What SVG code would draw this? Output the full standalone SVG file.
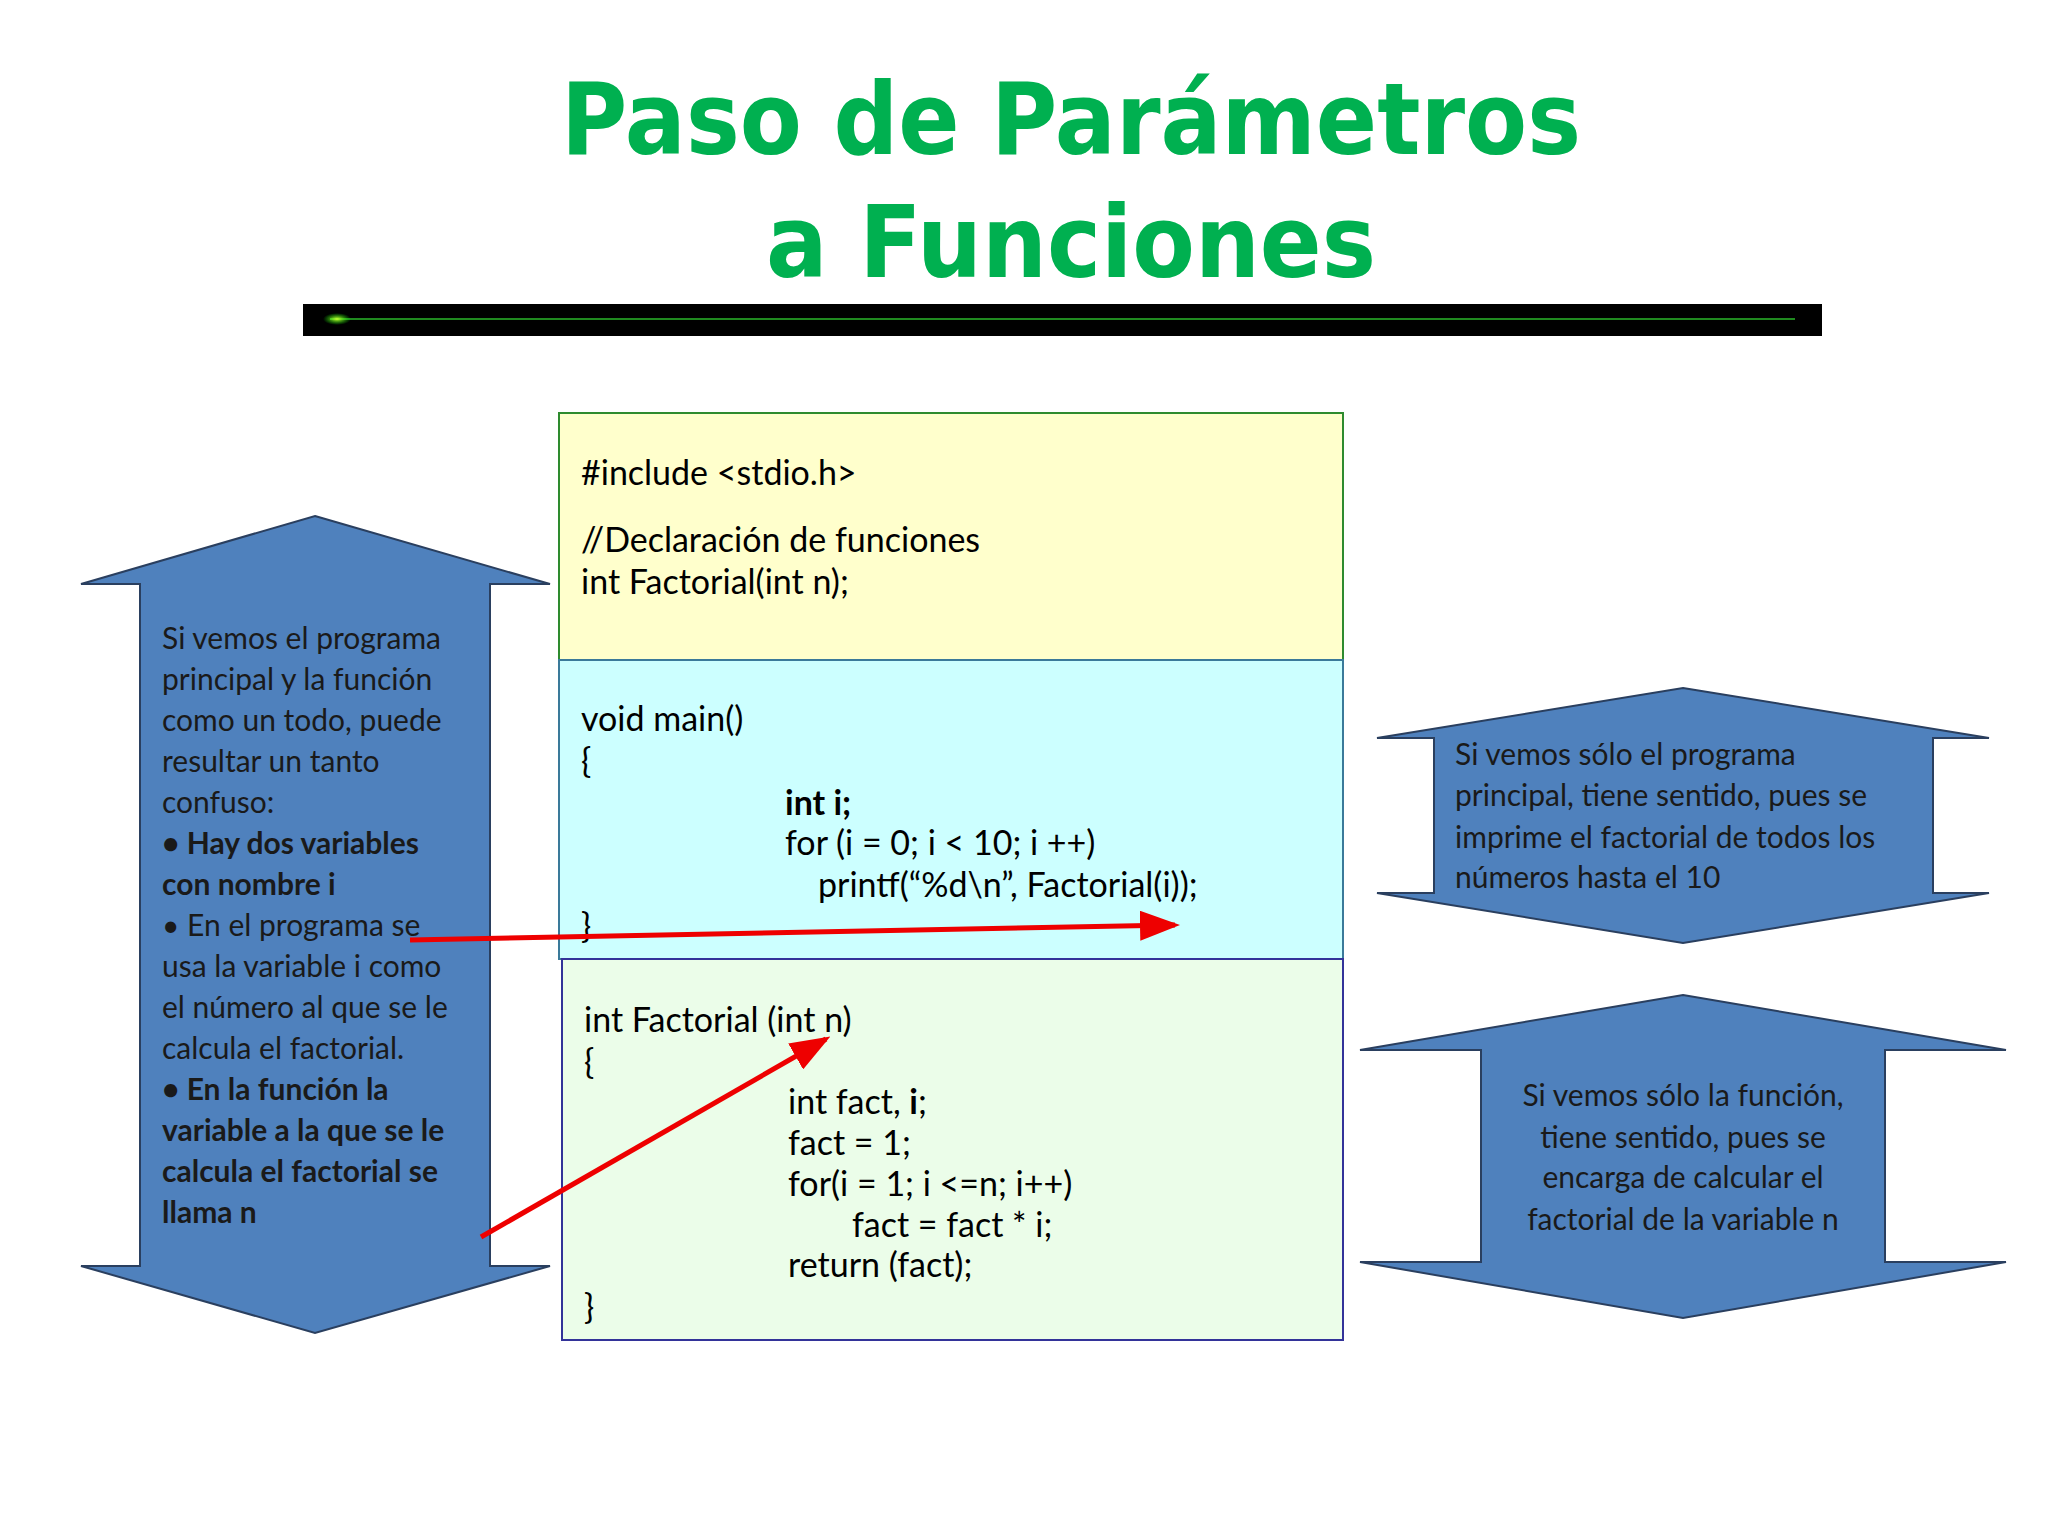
<svg xmlns="http://www.w3.org/2000/svg" width="2048" height="1536" viewBox="0 0 2048 1536">
<defs>
<style>
.t{font-family:"DejaVu Sans",sans-serif;font-weight:bold;fill:#00B050;font-size:100px}
.c{font-family:Lato,"Open Sans",sans-serif;font-size:34px;fill:#000}
.s{font-family:Lato,"Open Sans",sans-serif;font-size:30px;fill:#1a1a1a}
.ar{fill:#4F81BD;stroke:#2a3f5f;stroke-width:2}
.rl{stroke:#ee0000;stroke-width:5;fill:none;marker-end:url(#ah)}
</style>
<marker id="ah" markerWidth="8" markerHeight="6" refX="7" refY="3" orient="auto" markerUnits="strokeWidth"><path d="M0,0 L8,3 L0,6 z" fill="#ee0000"/></marker>
<radialGradient id="glow"><stop offset="0" stop-color="#ccff33"/><stop offset="1" stop-color="#00ff00" stop-opacity="0"/></radialGradient>
</defs>
<rect width="2048" height="1536" fill="#fff"/>
<g id="title">
<text class="t" x="1071" y="154" text-anchor="middle" textLength="1020" lengthAdjust="spacingAndGlyphs">Paso de Parámetros</text>
<text class="t" x="1071" y="277" text-anchor="middle" textLength="610" lengthAdjust="spacingAndGlyphs">a Funciones</text>
</g>
<g id="bar">
<rect x="303" y="304" width="1519" height="32" fill="#000"/>
<line x1="330" y1="319" x2="1795" y2="319" stroke="#1f8a1f" stroke-width="2"/>
<ellipse cx="337" cy="319" rx="14" ry="6" fill="url(#glow)"/>
</g>
<g id="box-include">
<rect x="559" y="413" width="784" height="247" fill="#FFFFCC" stroke="#2e8b2e" stroke-width="2"/>
<text class="c" x="581" y="485">#include &lt;stdio.h&gt;</text>
<text class="c" x="581" y="552">//Declaración de funciones</text>
<text class="c" x="581" y="594">int Factorial(int n);</text>
</g>
<g id="box-main">
<rect x="559" y="660" width="784" height="299" fill="#CCFFFF" stroke="#3a7a9a" stroke-width="2"/>
<text class="c" x="581" y="731">void main()</text>
<text class="c" x="581" y="773">{</text>
<text class="c" x="785" y="815" font-weight="bold">int i;</text>
<text class="c" x="785" y="855">for (i = 0; i &lt; 10; i ++)</text>
<text class="c" x="818" y="897">printf(“%d\n”, Factorial(i));</text>
<text class="c" x="581" y="938">}</text>
</g>
<g id="box-factorial">
<rect x="562" y="959" width="781" height="381" fill="#EBFDE9" stroke="#333399" stroke-width="2"/>
<text class="c" x="584" y="1032">int Factorial (int n)</text>
<text class="c" x="584" y="1074">{</text>
<text class="c" x="788" y="1114">int fact, <tspan font-weight="bold">i</tspan>;</text>
<text class="c" x="788" y="1155">fact = 1;</text>
<text class="c" x="788" y="1196">for(i = 1; i &lt;=n; i++)</text>
<text class="c" x="852" y="1237">fact = fact * i;</text>
<text class="c" x="788" y="1277">return (fact);</text>
<text class="c" x="584" y="1319">}</text>
</g>
<g id="arrow-left">
<polygon class="ar" points="315,516 550,584 490,584 490,1266 550,1266 315,1333 81,1266 140,1266 140,584 81,584"/>
<text class="s" x="162" y="649">Si vemos el programa</text>
<text class="s" x="162" y="690">principal y la función</text>
<text class="s" x="162" y="731">como un todo, puede</text>
<text class="s" x="162" y="772">resultar un tanto</text>
<text class="s" x="162" y="813">confuso:</text>
<text class="s" x="162" y="854" font-weight="bold">• Hay dos variables</text>
<text class="s" x="162" y="895" font-weight="bold">con nombre i</text>
<text class="s" x="162" y="936">• En el programa se</text>
<text class="s" x="162" y="977">usa la variable i como</text>
<text class="s" x="162" y="1018">el número al que se le</text>
<text class="s" x="162" y="1059">calcula el factorial.</text>
<text class="s" x="162" y="1100" font-weight="bold">• En la función la</text>
<text class="s" x="162" y="1141" font-weight="bold">variable a la que se le</text>
<text class="s" x="162" y="1182" font-weight="bold">calcula el factorial se</text>
<text class="s" x="162" y="1223" font-weight="bold">llama n</text>
</g>
<g id="arrow-right-1">
<polygon class="ar" points="1683,688 1989,738 1933,738 1933,893 1989,893 1683,943 1377,893 1434,893 1434,738 1377,738"/>
<text class="s" x="1455" y="765">Si vemos sólo el programa</text>
<text class="s" x="1455" y="806">principal, tiene sentido, pues se</text>
<text class="s" x="1455" y="848">imprime el factorial de todos los</text>
<text class="s" x="1455" y="888">números hasta el 10</text>
</g>
<g id="arrow-right-2">
<polygon class="ar" points="1683,995 2006,1050 1885,1050 1885,1262 2006,1262 1683,1318 1360,1262 1481,1262 1481,1050 1360,1050"/>
<text class="s" x="1683" y="1106" text-anchor="middle">Si vemos sólo la función,</text>
<text class="s" x="1683" y="1148" text-anchor="middle">tiene sentido, pues se</text>
<text class="s" x="1683" y="1188" text-anchor="middle">encarga de calcular el</text>
<text class="s" x="1683" y="1230" text-anchor="middle">factorial de la variable n</text>
</g>
<g id="connectors">
<line class="rl" x1="410" y1="940" x2="1175" y2="925"/>
<line class="rl" x1="481" y1="1237" x2="826" y2="1039"/>
</g>
</svg>
